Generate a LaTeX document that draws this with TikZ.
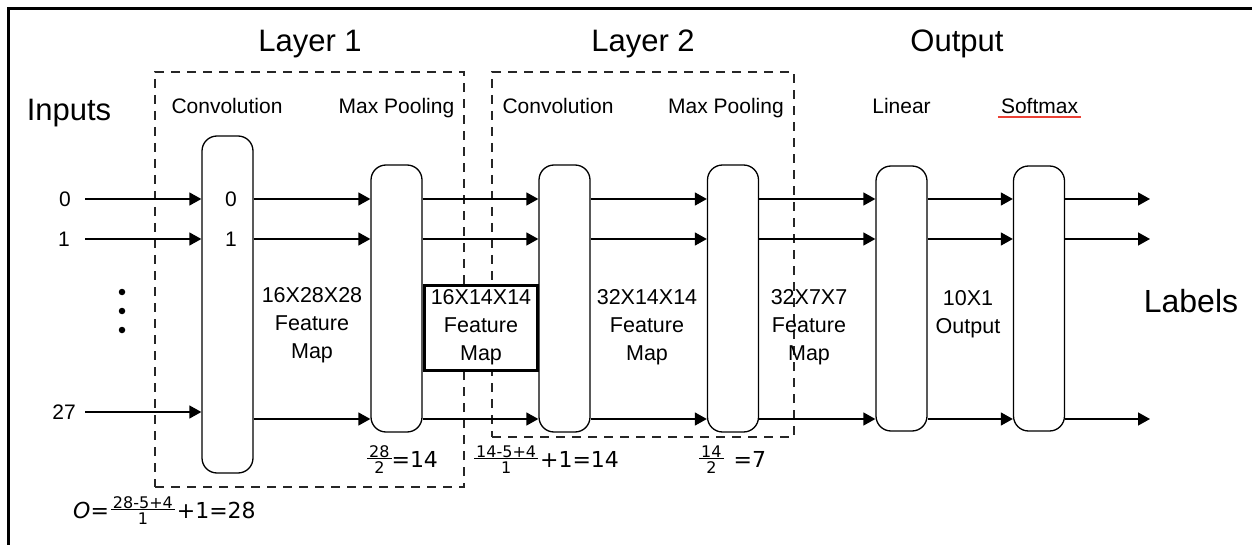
\documentclass[tikz,border=0pt]{standalone}
\usepackage{fontspec}
\setmainfont{Liberation Sans}
\newfontfamily\eqfont{DejaVu Sans}
\usetikzlibrary{arrows.meta}
\setlength\arrayrulewidth{1pt}
% stacked fraction set in the formula font
\newcommand\frc[2]{\ensuremath{\vcenter{\hbox{\eqfont\fontsize{16}{17}\selectfont
  \begin{tabular}{@{\hspace{2pt}}c@{\hspace{2pt}}}#1\\[-4pt]\hline\rule{0pt}{14pt}#2\end{tabular}}}}}
\definecolor{squiggle}{RGB}{235,64,52}
\begin{document}
\begin{tikzpicture}[x=1pt,y=-1pt,
  unit/.style={draw, line width=1.3pt, rounded corners=15pt, minimum width=51pt, inner sep=0pt},
  arr/.style={line width=1.3pt, -{Triangle[length=12pt,width=13pt]}},
  grp/.style={draw=black!85, line width=1.2pt, dash pattern=on 9pt off 7pt, inner sep=0pt},
  hdr/.style={font=\fontsize{31}{35}\selectfont, inner sep=0pt, anchor=base},
  lbl/.style={font=\fontsize{21}{26}\selectfont, inner sep=0pt},
  fm/.style={font=\fontsize{21.5}{28}\selectfont, align=center, inner sep=0pt},
  fmbox/.style={fm, draw, line width=3pt, fill=white, minimum width=113pt, minimum height=85pt},
  eq/.style={font=\eqfont\fontsize{22}{26}\selectfont, inner sep=0pt, anchor=west},
  dot/.style={circle, fill, inner sep=0pt, minimum size=6.5pt}
]
\useasboundingbox (0,0) rectangle (1252,545);
% outer frame (top and left edges)
\draw[line width=3pt] (8,545) -- (8,9) -- (1252,9);

% layer groups
\node[grp, minimum width=309pt, minimum height=415pt] (g1) at (309.5,279.5) {};
\node[grp, minimum width=302pt, minimum height=365pt] (g2) at (643,254.5) {};

% headers
\node[hdr] (h1) at (310,52) {Layer 1};
\node[hdr] (h2) at (643,52) {Layer 2};
\node[hdr] (h3) at (957,52) {Output};
\node[hdr] (inp) at (69,121) {Inputs};
\node[hdr, font=\fontsize{32}{36}\selectfont] (lab) at (1191,312) {Labels};

% stage names
\node[lbl, anchor=base] (t1) at (227,114) {Convolution};
\node[lbl, anchor=base] (t2) at (396.5,114) {Max Pooling};
\node[lbl, anchor=base] (t3) at (558,114) {Convolution};
\node[lbl, anchor=base] (t4) at (726,114) {Max Pooling};
\node[lbl, anchor=base] (t5) at (901.5,114) {Linear};
\node[lbl, anchor=base, inner sep=3pt] (t6) at (1039.5,114) {Softmax};
\draw[squiggle, line width=1.3pt] ([yshift=-3pt]t6.base west) -- ([yshift=-3pt]t6.base east);

% processing units
\node[unit, minimum height=337pt] (conv1) at (227.5,304.5) {};
\node[unit, minimum height=267pt] (pool1) at (396.5,298.5) {};
\node[unit, minimum height=267pt] (conv2) at (564.5,298.5) {};
\node[unit, minimum height=267pt] (pool2) at (733,298.5) {};
\node[unit, minimum height=265pt] (lin) at (901.5,298.5) {};
\node[unit, minimum height=265pt] (soft) at (1039,298.5) {};

% inputs
\node[lbl, anchor=east] (in0) at (71,199) {0};
\node[lbl, anchor=east] (in1) at (70,239) {1};
\node[lbl, anchor=east] (in27) at (76,412) {27};
\node[dot] (d1) at (122,292) {};
\node[dot] (d2) at (122,311) {};
\node[dot] (d3) at (122,330) {};
\node[lbl] (c0) at (231,199) {0};
\node[lbl] (c1) at (231,239) {1};

% signal rows
\coordinate (r0) at (0,199);
\coordinate (r1) at (0,239);
\coordinate (r2) at (0,419);
\coordinate (e0) at (1150,199);
\coordinate (e1) at (1150,239);
\coordinate (e2) at (1150,419);

\draw[arr] ([xshift=14pt]in0.east) -- (in0 -| conv1.west);
\draw[arr] ([xshift=15pt]in1.east) -- (in1 -| conv1.west);
\draw[arr] ([xshift=9pt]in27.east) -- (in27 -| conv1.west);
\foreach \a/\b in {conv1/pool1, pool1/conv2, conv2/pool2, pool2/lin, lin/soft}
  \foreach \r in {r0,r1,r2}
    \draw[arr] (\a.east |- \r) -- (\b.west |- \r);
\foreach \r/\e in {r0/e0, r1/e1, r2/e2}
  \draw[arr] (soft.east |- \r) -- (\e);

% feature maps
\node[fm] (fm1) at (312,325) {16X28X28\\Feature\\Map};
\node[fmbox] (fm2) at (481,327.5) {16X14X14\\Feature\\Map};
\node[fm] (fm3) at (647,327.5) {32X14X14\\Feature\\Map};
\node[fm] (fm4) at (809,327.5) {32X7X7\\Feature\\Map};
\node[fm] (fm5) at (968,314.5) {10X1\\Output};

% size calculations
\node[eq] (q1) at (73,513) {\textit{O}=\hspace{2pt}\frc{28-5+4}{1}\hspace{2pt}+1=28};
\node[eq] (q2) at (367,462) {\frc{28}{2}=14};
\node[eq] (q3) at (474,462) {\frc{14-5+4}{1}\hspace{2pt}+1=14};
\node[eq] (q4) at (699,462) {\frc{14}{2}\hspace{10pt}=7};
\end{tikzpicture}
\end{document}
